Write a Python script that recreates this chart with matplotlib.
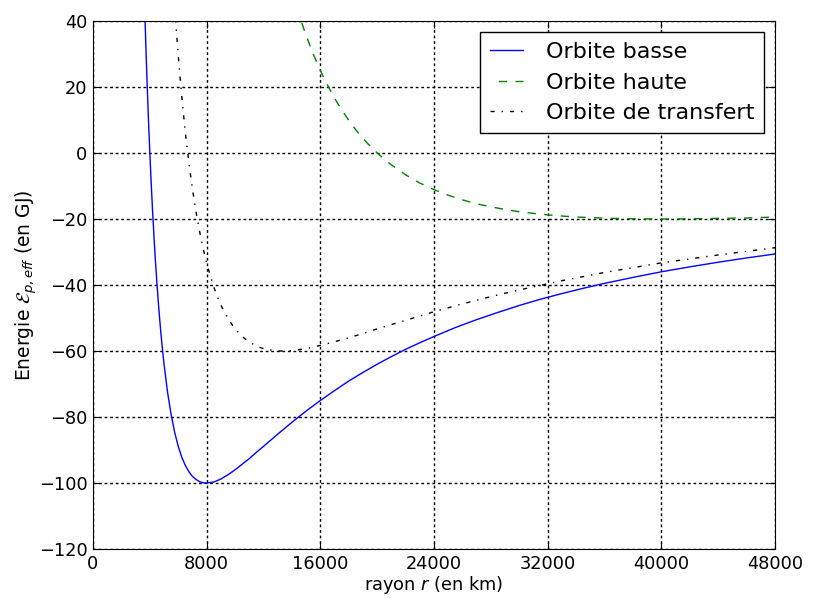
import matplotlib
matplotlib.use('Agg')
import matplotlib.pyplot as plt

# rayon en milliers de km, energie en GJ
r_basse = [3.5, 3.6, 3.7, 3.8, 3.9, 4.0, 4.1, 4.2, 4.3, 4.4, 4.5, 4.6, 4.7, 4.8, 4.9, 5.0,
           5.25, 5.5, 5.75, 6.0, 6.25, 6.5, 6.75, 7.0, 7.25, 7.5, 7.75, 8.0, 8.5, 9.0, 9.5,
           10.0, 10.5, 11.0, 11.5, 12.0, 13.0, 14.0, 15.0, 16.0, 17.0, 18.0, 19.0, 20.0,
           21.0, 22.0, 23.0, 24.0, 25.5, 27.0, 28.5, 30.0, 31.5, 33.0, 34.5, 36.0, 38.0,
           40.0, 42.0, 44.0, 46.0, 48.0]
e_basse = [65.3, 49.4, 35.1, 22.2, 10.5, 0.0, -9.5, -18.1, -26.0, -33.1, -39.5, -45.4,
           -50.7, -55.6, -60.0, -64.0, -72.6, -79.3, -84.7, -88.9, -92.2, -94.7, -96.6,
           -98.0, -98.9, -99.6, -99.9, -100.0, -99.7, -98.8, -97.5, -96.0, -94.3, -92.6,
           -90.7, -88.9, -85.2, -81.6, -78.2, -75.0, -72.0, -69.1, -66.5, -64.0, -61.7,
           -59.5, -57.5, -55.6, -52.9, -50.5, -48.3, -46.2, -44.3, -42.6, -41.0, -39.5,
           -37.7, -36.0, -34.5, -33.1, -31.8, -30.6]

r_haute = [13.5, 14.0, 14.5, 15.0, 15.5, 16.0, 16.5, 17.0, 17.5, 18.0, 18.5, 19.0, 19.5,
           20.0, 21.0, 22.0, 23.0, 24.0, 25.0, 26.0, 27.0, 28.0, 29.0, 30.0, 31.0, 32.0,
           33.0, 34.0, 36.0, 38.0, 40.0, 42.0, 44.0, 46.0, 48.0]
e_haute = [57.1, 49.0, 41.9, 35.6, 30.0, 25.0, 20.6, 16.6, 13.1, 9.9, 7.0, 4.4, 2.1, 0.0,
           -3.6, -6.6, -9.1, -11.1, -12.8, -14.2, -15.4, -16.3, -17.1, -17.8, -18.3,
           -18.75, -19.1, -19.4, -19.75, -19.94, -20.0, -19.95, -19.8, -19.7, -19.4]

r_transfert = [5.6, 5.7, 5.8, 5.9, 6.0, 6.125, 6.25, 6.375, 6.5, 6.625, 6.75, 6.875, 7.0,
               7.25, 7.5, 7.75, 8.0, 8.25, 8.5, 8.75, 9.0, 9.5, 10.0, 10.5, 11.0, 11.5,
               12.0, 12.5, 13.0, 13.5, 14.0, 14.5, 15.0, 16.0, 17.0, 18.0, 19.0, 20.0,
               21.0, 22.0, 24.0, 25.5, 27.0, 28.5, 30.0, 33.0, 36.0, 40.0, 44.0, 48.0]
e_transfert = [54.4, 47.6, 41.2, 35.2, 29.6, 23.1, 17.1, 11.5, 6.3, 1.5, -2.9, -7.0,
               -10.9, -17.8, -23.7, -28.9, -33.3, -37.2, -40.6, -43.5, -46.1, -50.2,
               -53.3, -55.6, -57.3, -58.5, -59.3, -59.7, -60.0, -60.0, -59.9, -59.6,
               -59.3, -58.3, -57.2, -56.0, -54.7, -53.3, -52.0, -50.7, -48.1, -46.3,
               -44.6, -43.0, -41.5, -38.7, -36.2, -33.3, -30.9, -28.7]

xticks = [0, 8000, 16000, 24000, 32000, 40000, 48000]
yticks = [-120, -100, -80, -60, -40, -20, 0, 20, 40]

fig = plt.figure(figsize=(8.19, 5.98), dpi=100)
ax = fig.add_axes([93/819, 1-549/598, (775-93)/819, (549-21)/598])

ax.plot([r*1000 for r in r_basse], e_basse, '-', color='b', lw=1, label='Orbite basse')
ax.plot([r*1000 for r in r_haute], e_haute, color='g', lw=1, linestyle=(6, (6, 6)),
        label='Orbite haute')
ax.plot([r*1000 for r in r_transfert], e_transfert, color='k', lw=1,
        dashes=(3, 5, 1, 5), label='Orbite de transfert')

ax.set_xlim(0, 48000)
ax.set_ylim(-120, 40)
ax.set_xticks(xticks)
ax.set_yticks(yticks)
ax.tick_params(direction='in', top=True, right=True, labelsize=12.8, length=5, pad=4)
ax.grid(True, color='k', lw=1, dashes=(2, 2))
ax.set_xlabel('rayon $r$ (en km)', fontsize=12.8, labelpad=1)
ax.set_ylabel(r'Energie $\mathcal{E}_{p,eff}$ (en GJ)', fontsize=13.5, labelpad=0)
leg = ax.legend(loc='upper right', fontsize=16, fancybox=False, framealpha=1,
                edgecolor='k', borderaxespad=0.5, handlelength=1.5,
                handletextpad=1.0, labelspacing=0.47, borderpad=0.45)
leg.get_frame().set_linewidth(1)

fig.savefig('out.png', dpi=100)
